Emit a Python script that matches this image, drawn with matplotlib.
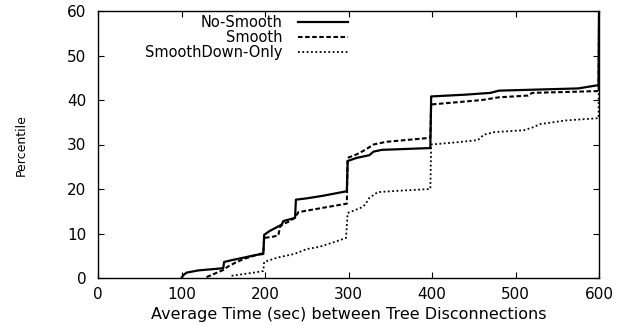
import matplotlib
matplotlib.use("Agg")
import matplotlib.pyplot as plt

plt.rcParams['font.family'] = ['DejaVu Sans']

# CDF curves (x = seconds, y = percentile)
no_smooth_x = [100, 102, 106, 120, 150, 151, 160, 175, 190, 198, 199, 205, 210, 220, 222, 236, 237, 250, 270, 298, 299, 310, 325, 330, 340, 398, 399, 440, 470, 480, 575, 598, 599.5, 600]
no_smooth_y = [0, 0.6, 1.2, 1.7, 2.2, 3.6, 4.0, 4.6, 5.2, 5.4, 9.7, 10.5, 11.0, 12.0, 12.8, 13.5, 17.6, 17.9, 18.5, 19.5, 26.3, 27.0, 27.6, 28.4, 28.8, 29.2, 40.8, 41.2, 41.6, 42.1, 42.6, 43.3, 43.3, 60]

smooth_x = [130, 140, 150, 155, 165, 175, 190, 198, 199, 210, 216, 218, 222, 228, 236, 240, 255, 270, 298, 299, 310, 320, 330, 345, 398, 399, 430, 460, 480, 515, 520, 560, 598, 599.5, 600]
smooth_y = [0.2, 1.0, 1.8, 2.5, 3.5, 4.3, 5.2, 5.6, 9.0, 9.3, 9.6, 11.5, 12.2, 12.6, 13.6, 14.8, 15.3, 15.8, 16.7, 27.0, 27.8, 28.8, 30.0, 30.6, 31.5, 39.0, 39.5, 40.0, 40.6, 41.0, 41.6, 41.8, 42.0, 42.0, 60]

down_only_x = [160, 175, 190, 198, 199, 215, 235, 250, 265, 285, 297, 299, 315, 320, 325, 335, 360, 398, 399, 430, 455, 462, 475, 510, 520, 530, 560, 598, 599.5, 600]
down_only_y = [0.5, 0.9, 1.3, 1.6, 3.6, 4.6, 5.4, 6.5, 7.0, 8.2, 9.0, 14.6, 15.8, 16.5, 18.0, 19.3, 19.6, 20.0, 30.0, 30.5, 31.0, 32.2, 32.8, 33.2, 33.8, 34.6, 35.4, 35.9, 35.9, 60]

x_ticks = [0, 100, 200, 300, 400, 500, 600]
y_ticks = [0, 10, 20, 30, 40, 50, 60]

fig = plt.figure(figsize=(6.34, 3.26), dpi=100)
ax = fig.add_axes([98 / 634, 1 - 278 / 326, 501 / 634, 267 / 326])

ax.plot(no_smooth_x, no_smooth_y, color='black', lw=1.6, ls='-', label='No-Smooth')
ax.plot(smooth_x, smooth_y, color='black', lw=1.5, ls=(0, (2.2, 1.2)), label='Smooth')
ax.plot(down_only_x, down_only_y, color='black', lw=1.3, ls=(0, (1, 1.4)), label='SmoothDown-Only')

ax.set_xlim(0, 600)
ax.set_ylim(0, 60)
ax.set_xticks(x_ticks)
ax.set_yticks(y_ticks)
ax.tick_params(direction='in', top=True, right=True, length=4, width=0.8, labelsize=11)
ax.tick_params(axis='x', pad=6.5)
ax.tick_params(axis='y', pad=8.5)
for s in ax.spines.values():
    s.set_linewidth(1.0)

ax.set_xlabel('Average Time (sec) between Tree Disconnections', fontsize=11.5, va='center')
ax.xaxis.set_label_coords(0.5, -(314 - 278) / 267)
fig.text(21 / 634, 1 - 145 / 326, 'Percentile', rotation=90, fontsize=9, ha='center', va='center')

leg = ax.legend(loc='upper right', bbox_to_anchor=((348 - 98) / 501, 1 - 4 / 267), frameon=False,
                markerfirst=False, fontsize=10.5, handlelength=3.4, handletextpad=1.1,
                labelspacing=0.0, borderaxespad=0, borderpad=0)
for t in leg.get_texts():
    t.set_ha('right')
leg._legend_box.align = 'right'

fig.savefig('out.png', dpi=100)
